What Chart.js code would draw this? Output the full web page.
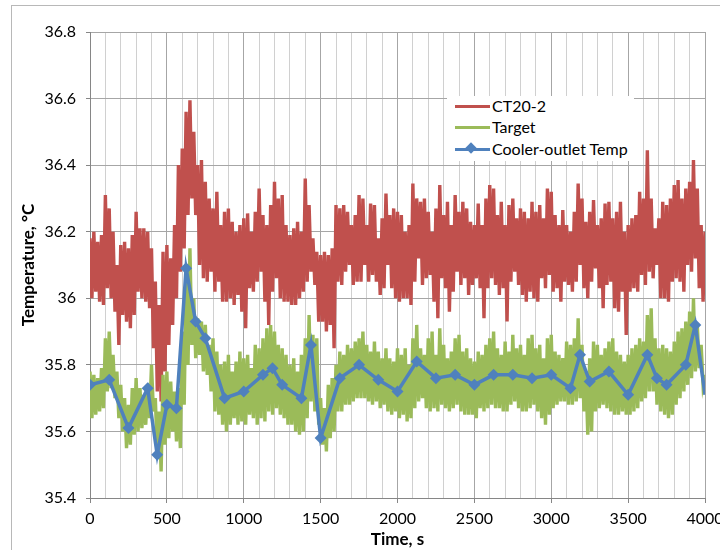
<!DOCTYPE html>
<html>
<head>
<meta charset="utf-8">
<script src="https://cdn.jsdelivr.net/npm/chart.js@4"></script>
<style>
    body { margin: 0; background: #fff; overflow: hidden; }
    #wrap { position: relative; width: 720px; height: 550px; }
    #frame { position: absolute; left: 11px; top: 5px; width: 800px; height: 700px; border: 1px solid #b8b8b8; }
    #chart { position: absolute; left: 0; top: 0; }
    #legend { position: absolute; left: 447px; top: 96px; width: 187px; height: 65px; background: #fff;
              font-family: Lato, sans-serif; font-size: 16px; color: #000; }
    .item { position: absolute; left: 8px; height: 20px; line-height: 20px; white-space: nowrap; }
    .swatch { position: absolute; left: 0; top: 9px; width: 35px; height: 3px; }
    .diamond { position: absolute; left: 12px; top: 5px; width: 8px; height: 8px; transform: rotate(45deg); }
    .label { position: absolute; left: 37px; top: 0; }
</style>
</head>
<body>
<div id="wrap">
    <div id="frame"></div>
    <canvas id="chart" width="720" height="550"></canvas>
    <div id="legend">
        <div class="item" style="top: 0px;"><span class="swatch" style="background:#C0504D"></span><span class="label">CT20-2</span></div>
        <div class="item" style="top: 21px;"><span class="swatch" style="background:#9BBB59"></span><span class="label">Target</span></div>
        <div class="item" style="top: 43px;"><span class="swatch" style="background:#4F81BD"></span><span class="diamond" style="background:#4F81BD"></span><span class="label">Cooler-outlet Temp</span></div>
    </div>
</div>
<script>
// band series are read as upper / lower edge every 25 s
const bandStep = 25;

// CT20-2, upper edge of the noisy trace
const ct20Upper = [
    36.18, 36.20, 36.17, 36.19, 36.31, 36.27, 36.20, 36.10,
    36.16, 36.17, 36.15, 36.19, 36.26, 36.21, 36.21, 36.20,
    36.15, 36.05, 35.98, 36.14, 36.16, 36.12, 36.22, 36.40,
    36.45, 36.56, 36.595, 36.50, 36.40, 36.415, 36.35, 36.30,
    36.27, 36.32, 36.22, 36.26, 36.27, 36.23, 36.20, 36.22,
    36.24, 36.255, 36.20, 36.26, 36.33, 36.25, 36.22, 36.28,
    36.35, 36.30, 36.31, 36.22, 36.19, 36.21, 36.23, 36.20,
    36.36, 36.28, 36.18, 36.14, 36.13, 36.14, 36.13, 36.15,
    36.28, 36.27, 36.28, 36.26, 36.22, 36.25, 36.31, 36.30,
    36.22, 36.285, 36.28, 36.18, 36.24, 36.315, 36.25, 36.27,
    36.26, 36.25, 36.20, 36.22, 36.345, 36.30, 36.29, 36.30,
    36.26, 36.20, 36.27, 36.34, 36.25, 36.29, 36.22, 36.31,
    36.26, 36.29, 36.27, 36.23, 36.22, 36.285, 36.22, 36.30,
    36.34, 36.33, 36.25, 36.29, 36.22, 36.28, 36.30, 36.24,
    36.27, 36.26, 36.24, 36.29, 36.26, 36.28, 36.24, 36.33,
    36.32, 36.25, 36.22, 36.265, 36.22, 36.20, 36.26, 36.345,
    36.30, 36.23, 36.26, 36.295, 36.22, 36.24, 36.285, 36.29,
    36.24, 36.26, 36.29, 36.20, 36.22, 36.24, 36.25, 36.32,
    36.30, 36.445, 36.30, 36.21, 36.24, 36.29, 36.28, 36.30,
    36.34, 36.355, 36.30, 36.33, 36.35, 36.415, 36.33, 36.22,
    36.20
];

// CT20-2, lower edge
const ct20Lower = [
    36.00, 36.02, 35.99, 35.98, 36.03, 36.00, 35.96, 35.86,
    35.95, 35.93, 35.91, 35.95, 36.02, 36.00, 35.99, 35.97,
    35.85, 35.72, 35.69, 35.78, 35.86, 35.92, 36.00, 36.08,
    36.15, 36.25, 36.30, 36.25, 36.10, 36.06, 36.05, 36.08,
    36.02, 36.05, 35.99, 35.99, 36.00, 35.98, 36.01, 35.96,
    35.91, 36.03, 36.02, 36.05, 36.08, 35.99, 35.92, 36.02,
    36.06, 36.00, 35.99, 35.99, 35.98, 35.98, 36.00, 36.02,
    36.05, 36.08, 36.04, 35.93, 35.93, 35.90, 35.92, 35.85,
    36.05, 36.04, 36.08, 36.10, 36.04, 36.05, 36.05, 36.10,
    36.05, 36.07, 36.05, 36.01, 36.03, 36.10, 36.03, 36.00,
    35.99, 36.00, 36.00, 35.98, 36.05, 36.12, 36.04, 36.06,
    36.07, 35.99, 35.94, 36.06, 36.03, 35.96, 36.02, 36.08,
    36.04, 36.06, 36.01, 36.04, 36.06, 36.03, 35.94, 36.03,
    36.06, 36.04, 36.01, 36.03, 35.93, 36.05, 36.08, 36.04,
    36.01, 35.99, 36.02, 36.00, 35.99, 36.06, 36.03, 36.07,
    36.02, 36.03, 35.99, 36.05, 36.04, 36.02, 36.05, 36.10,
    36.03, 36.00, 36.05, 36.09, 36.03, 35.97, 36.04, 36.05,
    35.97, 35.96, 36.02, 35.89, 36.02, 36.03, 36.02, 36.07,
    36.04, 36.08, 36.06, 36.10, 36.00, 36.00, 35.99, 36.05,
    36.06, 36.05, 36.02, 36.10, 36.08, 36.12, 36.03, 35.99,
    36.00
];

// Target, upper edge
const targetUpper = [
    35.78, 35.77, 35.76, 35.79, 35.88, 35.90, 35.83, 35.78,
    35.74, 35.70, 35.68, 35.73, 35.76, 35.73, 35.71, 35.74,
    35.80, 35.70, 35.66, 35.77, 35.78, 35.75, 35.72, 35.73,
    35.90, 36.05, 36.15, 36.00, 35.94, 35.93, 35.92, 35.86,
    35.88, 35.84, 35.80, 35.81, 35.83, 35.78, 35.81, 35.84,
    35.82, 35.83, 35.79, 35.86, 35.85, 35.88, 35.91, 35.92,
    35.90, 35.86, 35.85, 35.83, 35.80, 35.82, 35.78, 35.83,
    35.88, 35.95, 35.89, 35.88, 35.70, 35.67, 35.74, 35.76,
    35.80, 35.84, 35.83, 35.86, 35.85, 35.87, 35.88, 35.90,
    35.86, 35.84, 35.87, 35.84, 35.82, 35.85, 35.82, 35.81,
    35.85, 35.83, 35.85, 35.80, 35.88, 35.92, 35.85, 35.83,
    35.88, 35.90, 35.83, 35.91, 35.86, 35.82, 35.84, 35.88,
    35.89, 35.84, 35.85, 35.82, 35.81, 35.84, 35.83, 35.86,
    35.88, 35.90, 35.85, 35.83, 35.87, 35.84, 35.89, 35.85,
    35.86, 35.83, 35.88, 35.89, 35.85, 35.86, 35.82, 35.88,
    35.89, 35.84, 35.83, 35.82, 35.87, 35.86, 35.88, 35.94,
    35.86, 35.78, 35.82, 35.87, 35.86, 35.83, 35.85, 35.87,
    35.88, 35.84, 35.83, 35.81, 35.83, 35.85, 35.86, 35.88,
    35.87, 35.95, 35.97, 35.88, 35.85, 35.86, 35.85, 35.84,
    35.87, 35.90, 35.91, 35.93, 35.96, 36.00, 35.92, 35.86,
    35.77
];

// Target, lower edge
const targetLower = [
    35.64, 35.65, 35.66, 35.67, 35.72, 35.73, 35.70, 35.64,
    35.60, 35.55, 35.56, 35.59, 35.60, 35.61, 35.62, 35.64,
    35.66, 35.53, 35.48, 35.56, 35.58, 35.60, 35.57, 35.55,
    35.68, 35.80, 35.86, 35.82, 35.83, 35.78, 35.77, 35.72,
    35.66, 35.65, 35.62, 35.60, 35.62, 35.64, 35.62, 35.63,
    35.62, 35.65, 35.64, 35.62, 35.64, 35.63, 35.66, 35.65,
    35.67, 35.65, 35.64, 35.62, 35.62, 35.60, 35.59, 35.60,
    35.64, 35.69, 35.66, 35.62, 35.56, 35.54, 35.58, 35.60,
    35.66, 35.66, 35.68, 35.68, 35.69, 35.70, 35.70, 35.70,
    35.69, 35.68, 35.69, 35.67, 35.68, 35.66, 35.65, 35.66,
    35.64, 35.65, 35.63, 35.64, 35.67, 35.69, 35.70, 35.67,
    35.66, 35.67, 35.66, 35.68, 35.67, 35.66, 35.67, 35.68,
    35.66, 35.65, 35.65, 35.65, 35.64, 35.67, 35.66, 35.67,
    35.68, 35.67, 35.67, 35.66, 35.66, 35.68, 35.69, 35.67,
    35.66, 35.66, 35.67, 35.68, 35.66, 35.64, 35.62, 35.65,
    35.67, 35.68, 35.69, 35.69, 35.68, 35.68, 35.69, 35.70,
    35.66, 35.59, 35.60, 35.66, 35.67, 35.68, 35.67, 35.66,
    35.65, 35.65, 35.66, 35.65, 35.65, 35.66, 35.67, 35.69,
    35.70, 35.72, 35.72, 35.68, 35.66, 35.65, 35.64, 35.65,
    35.68, 35.70, 35.72, 35.74, 35.76, 35.78, 35.79, 35.74,
    35.70
];

// Cooler-outlet Temp, the marked points
const coolerTime = [0, 125, 250, 375, 437, 500, 562, 625, 687, 750,
    875, 1000, 1125, 1187, 1250, 1375, 1437, 1500, 1625, 1750,
    1875, 2000, 2125, 2250, 2375, 2500, 2625, 2750, 2875, 3000,
    3125, 3187, 3250, 3375, 3500, 3625, 3687, 3750, 3875, 3937, 4000];
const coolerTemp = [35.74, 35.755, 35.61, 35.73, 35.53, 35.68, 35.67, 36.09, 35.93, 35.88,
    35.70, 35.72, 35.77, 35.79, 35.74, 35.70, 35.86, 35.58, 35.76, 35.80,
    35.755, 35.72, 35.81, 35.76, 35.77, 35.74, 35.77, 35.77, 35.76, 35.77,
    35.73, 35.83, 35.75, 35.78, 35.71, 35.83, 35.76, 35.74, 35.80, 35.92, 35.71];

// axis ranges
const timeMin = 0, timeMax = 4000, timeMajor = 500, timeMinor = 100;
const tempMin = 35.4, tempMax = 36.8, tempStep = 0.2;

// upper edge at t, lower edge half a step later
function bandPoints(upper, lower) {
    const pts = [];
    upper.forEach((v, i) => {
        const t = i * bandStep;
        pts.push({ x: t, y: v });
        if (t + bandStep / 2 <= timeMax) pts.push({ x: t + bandStep / 2, y: lower[i] });
    });
    return pts;
}

const coolerPoints = coolerTime.map((t, i) => ({ x: t, y: coolerTemp[i] }));

const gridMajor = '#a6a6a6';
const gridMinor = '#d0d0d0';
const axisFont = { family: 'Lato', size: 16 };

new Chart(document.getElementById('chart'), {
    type: 'line',
    data: {
        datasets: [
            {
                label: 'Cooler-outlet Temp',
                data: coolerPoints,
                borderColor: '#4F81BD',
                backgroundColor: '#4F81BD',
                borderWidth: 3.5,
                pointStyle: 'rectRot',
                pointRadius: coolerPoints.map((p, i) => i === coolerPoints.length - 1 ? 0 : 6),
                pointBorderWidth: 0,
                order: 0
            },
            {
                label: 'Target',
                data: bandPoints(targetUpper, targetLower),
                borderColor: '#9BBB59',
                borderWidth: 3.4,
                pointRadius: 0,
                order: 1
            },
            {
                label: 'CT20-2',
                data: bandPoints(ct20Upper, ct20Lower),
                borderColor: '#C0504D',
                borderWidth: 3.4,
                pointRadius: 0,
                order: 2
            }
        ]
    },
    options: {
        responsive: false,
        animation: false,
        devicePixelRatio: 1,
        layout: { padding: { top: 32, right: 15, left: 0, bottom: 0 } },
        plugins: { legend: { display: false }, tooltip: { enabled: false } },
        scales: {
            x: {
                type: 'linear',
                min: timeMin,
                max: timeMax,
                ticks: {
                    stepSize: timeMinor,
                    autoSkip: false,
                    maxRotation: 0,
                    padding: 6,
                    color: '#000',
                    font: axisFont,
                    callback: v => (v % timeMajor === 0 ? String(v) : '')
                },
                grid: {
                    color: c => (c.tick && c.tick.value % timeMajor === 0 ? gridMajor : gridMinor),
                    tickColor: c => (c.tick && c.tick.value % timeMajor === 0 ? '#868686' : 'rgba(0,0,0,0)'),
                    tickLength: 5,
                    lineWidth: 1
                },
                border: { color: '#868686', width: 1 },
                title: {
                    display: true,
                    text: 'Time, s',
                    color: '#000',
                    font: { family: 'Lato', size: 17, weight: 'bold' },
                    padding: { top: 0, bottom: 0 }
                },
                afterFit: scale => { scale.height = 52; scale.paddingLeft = 0; scale.paddingRight = 0; }
            },
            y: {
                min: tempMin,
                max: tempMax,
                ticks: {
                    stepSize: tempStep,
                    padding: 10,
                    color: '#000',
                    font: axisFont,
                    callback: v => String(Number(v.toFixed(1)))
                },
                grid: { color: gridMajor, tickColor: '#868686', tickLength: 4, lineWidth: 1 },
                border: { color: '#868686', width: 1 },
                title: {
                    display: true,
                    text: 'Temperature, °C',
                    color: '#000',
                    font: { family: 'Lato', size: 17, weight: 'bold' },
                    padding: { top: 18, bottom: 0 }
                },
                afterFit: scale => { scale.width = 90; scale.paddingTop = 0; scale.paddingBottom = 0; }
            }
        }
    }
});
</script>
</body>
</html>
